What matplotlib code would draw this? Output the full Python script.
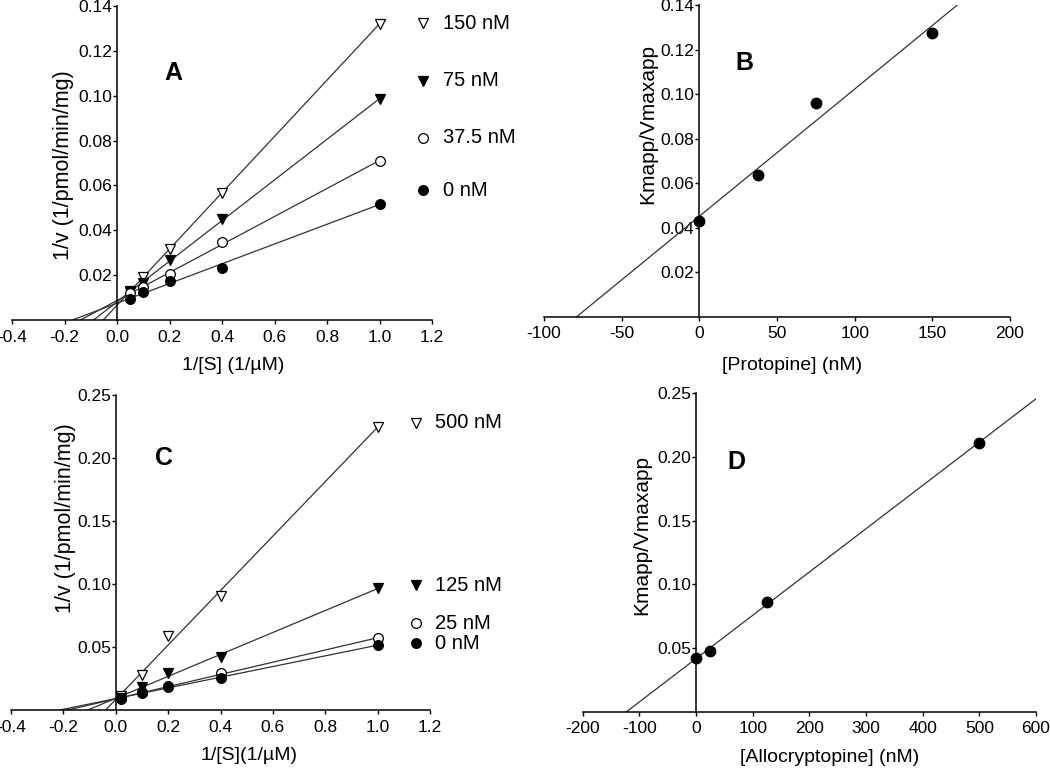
import numpy as np
import matplotlib
matplotlib.use("Agg")
import matplotlib.pyplot as plt

plt.rcParams["font.family"] = ["Liberation Sans", "DejaVu Sans"]
plt.rcParams["axes.unicode_minus"] = False

# panel A: protopine, Lineweaver-Burk
inv_s_a = [0.05, 0.1, 0.2, 0.4, 1.0]
a_labels = ["150 nM", "75 nM", "37.5 nM", "0 nM"]
a_vals = {
    "150 nM": [0.0130, 0.0190, 0.0317, 0.0566, 0.1321],
    "75 nM": [0.0123, 0.0166, 0.0267, 0.0450, 0.0984],
    "37.5 nM": [0.0119, 0.0145, 0.0207, 0.0348, 0.0708],
    "0 nM": [0.0092, 0.0126, 0.0173, 0.0234, 0.0519],
}

# panel C: allocryptopine, Lineweaver-Burk
inv_s_c = [0.02, 0.1, 0.2, 0.4, 1.0]
c_labels = ["500 nM", "125 nM", "25 nM", "0 nM"]
c_vals = {
    "500 nM": [0.0110, 0.0280, 0.0590, 0.0905, 0.2249],
    "125 nM": [0.0098, 0.0185, 0.0290, 0.0423, 0.0966],
    "25 nM": [0.0087, 0.0140, 0.0190, 0.0291, 0.0569],
    "0 nM": [0.0093, 0.0137, 0.0185, 0.0251, 0.0516],
}

# secondary plots
protopine_nm = [0, 37.5, 75, 150]
protopine_slope = [0.0431, 0.0637, 0.0962, 0.1274]
allo_nm = [0, 25, 125, 500]
allo_slope = [0.0425, 0.0478, 0.0861, 0.2113]

markers = {
    "150 nM": ("v", "white"), "75 nM": ("v", "black"),
    "37.5 nM": ("o", "white"), "0 nM": ("o", "black"),
    "500 nM": ("v", "white"), "125 nM": ("v", "black"),
    "25 nM": ("o", "white"),
}

W, H = 1050, 769
fig = plt.figure(figsize=(W / 100, H / 100), dpi=100)


def box(l, t, r, b):
    return [l / W, 1 - b / H, (r - l) / W, (b - t) / H]


def style(ax, xlim, ylim, xticks, yticks, xfmt, yfmt):
    ax.set_xlim(*xlim)
    ax.set_ylim(*ylim)
    for s in ("top", "right"):
        ax.spines[s].set_visible(False)
    ax.spines["left"].set_position(("data", 0))
    ax.spines["left"].set_linewidth(1.1)
    ax.spines["bottom"].set_linewidth(1.1)
    ax.set_xticks(xticks)
    ax.set_xticklabels([xfmt(v) for v in xticks])
    ax.set_yticks(yticks)
    ax.set_yticklabels([yfmt(v) for v in yticks])
    ax.tick_params(direction="out", length=3, width=1, labelsize=12.5)
    ax.tick_params(axis="x", pad=4)
    ax.tick_params(axis="y", pad=0.5)
    ax.patch.set_visible(False)


def lb_panel(ax, xs, labels, vals, leg_x, leg_ys):
    for lab in labels:
        y = vals[lab]
        k, c = np.polyfit(xs, y, 1)
        x0 = -c / k
        ax.plot([x0, 1.0], [0, k + c], color="#333333", lw=0.9, zorder=2)
        m, fc = markers[lab]
        ax.plot(xs, y, m, ms=7, mfc=fc, mec="black", mew=0.9, zorder=3)
    for lab, ly in zip(labels, leg_ys):
        m, fc = markers[lab]
        ax.plot([leg_x], [ly], m, ms=7, mfc=fc, mec="black", mew=0.9, clip_on=False)
        ax.text(leg_x + 0.075, ly, lab, fontsize=14.5, va="center", ha="left")


def sec_panel(ax, xs, ys, xlim):
    k, c = np.polyfit(xs, ys, 1)
    xx = np.array(xlim, dtype=float)
    ax.plot(xx, k * xx + c, color="#333333", lw=0.9, zorder=2)
    ax.plot(xs, ys, "o", ms=7.5, color="black", zorder=3)


# A
axA = fig.add_axes(box(12, 6, 432, 320))
style(axA, (-0.4, 1.2), (0, 0.14), np.arange(-0.4, 1.21, 0.2), np.arange(0.02, 0.141, 0.02),
      lambda v: f"{v:.1f}", lambda v: f"{v:.2f}")
lb_panel(axA, inv_s_a, a_labels, a_vals, 1.166, [0.1324, 0.1067, 0.0813, 0.0578])
axA.text(0.213, 0.110, "A", fontsize=18, fontweight="bold", ha="center", va="center")

# C
axC = fig.add_axes(box(11, 395, 430, 710))
style(axC, (-0.4, 1.2), (0, 0.25), np.arange(-0.4, 1.21, 0.2), np.arange(0.05, 0.251, 0.05),
      lambda v: f"{v:.1f}", lambda v: f"{v:.2f}")
lb_panel(axC, inv_s_c, c_labels, c_vals, 1.145, [0.228, 0.0992, 0.0688, 0.0529])
axC.text(0.183, 0.200, "C", fontsize=18, fontweight="bold", ha="center", va="center")

# B
axB = fig.add_axes(box(544, 5, 1010, 316.7))
style(axB, (-100, 200), (0, 0.14), np.arange(-100, 201, 50), np.arange(0.02, 0.141, 0.02),
      lambda v: f"{v:.0f}", lambda v: f"{v:.2f}")
sec_panel(axB, protopine_nm, protopine_slope, (-100, 200))
axB.text(29, 0.114, "B", fontsize=18, fontweight="bold", ha="center", va="center")

# D
axD = fig.add_axes(box(582.7, 393.3, 1036, 711.7))
style(axD, (-200, 600), (0, 0.25), np.arange(-200, 601, 100), np.arange(0.05, 0.251, 0.05),
      lambda v: f"{v:.0f}", lambda v: f"{v:.2f}")
sec_panel(axD, allo_nm, allo_slope, (-200, 600))
axD.text(72, 0.196, "D", fontsize=18, fontweight="bold", ha="center", va="center")


def ftext(x, y, s, rot=0, size=14):
    fig.text(x / W, 1 - y / H, s, fontsize=size, ha="center", va="center", rotation=rot)


ftext(63, 165, "1/v (1/pmol/min/mg)", 90, 15.5)
ftext(233, 366, "1/[S] (1/µM)")
ftext(65, 518, "1/v (1/pmol/min/mg)", 90, 15.5)
ftext(249, 755, "1/[S](1/µM)")
ftext(648, 124, "Kmapp/Vmaxapp", 90, 15)
ftext(792, 365, "[Protopine] (nM)")
ftext(642, 535, "Kmapp/Vmaxapp", 90, 15)
ftext(830, 757, "[Allocryptopine] (nM)")

fig.savefig("out.png", dpi=100)
